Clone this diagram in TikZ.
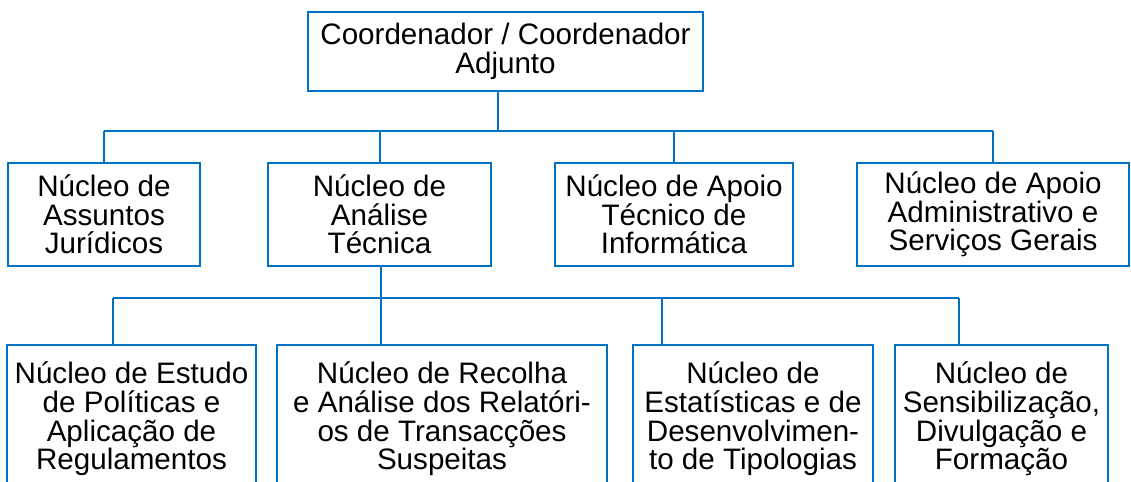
\documentclass[tikz,border=0pt]{standalone}
\usepackage{fontspec}
\setmainfont{Liberation Sans}
\usepackage{tikz}
\usepackage{xcolor}
\definecolor{OrgBlue}{RGB}{0,114,196}
\usetikzlibrary{positioning}

\begin{document}
\begin{tikzpicture}[
    x = 0.5pt, y = -0.5pt
    , box/.style = {
      , rectangle
      , draw = OrgBlue
      , line width = 1.15pt
      , inner sep = 1pt
      , align = center
      , font = \fontsize{14.8}{14.35}\selectfont
    }
    , headbox/.style = {
      box,
      minimum width = 197.5pt,
      minimum height = 39.5pt
    }
    , unit/.style = {
      box,
      minimum height = 51.5pt
    }
    , subunit/.style = {
      box,
      minimum height = 74pt
    }
    , link/.style = {
      , draw = OrgBlue
      , line width = 1pt
    }
    ]
    \useasboundingbox (0,0) rectangle (1131,482);
    \clip (0,0) rectangle (1131,482);

    \node[headbox] (coord) at (505.5,51.5) {Coordenador / Coordenador\\Adjunto};

    \node[unit, minimum width = 96pt] (juridicos) at (104,214.5) {Núcleo de\\Assuntos\\Jurídicos};
    \node[unit, minimum width = 111.5pt] (analise) at (379.5,214.5) {Núcleo de\\Análise\\Técnica};
    \node[unit, minimum width = 119pt] (informatica) at (674,214.5) {Núcleo de Apoio\\Técnico de\\Informática};
    \node[unit, minimum width = 136pt] (administrativo) at (993,214.5) {Núcleo de Apoio\\Administrativo e\\Serviços Gerais};

    \node[subunit, minimum width = 124.5pt] (estudo) at (131.5,419) {Núcleo de Estudo\\de Políticas e\\Aplicação de\\Regulamentos};
    \node[subunit, minimum width = 165pt] (recolha) at (442,419) {Núcleo de Recolha\\e Análise dos Relatóri-\\os de Transacções\\Suspeitas};
    \node[subunit, minimum width = 120pt] (estatisticas) at (753,419) {Núcleo de\\Estatísticas e de\\Desenvolvimen-\\to de Tipologias};
    \node[subunit, minimum width = 106.5pt] (sensibilizacao) at (1001.5,419) {Núcleo de\\Sensibilização,\\Divulgação e\\Formação};

    % first level
    \coordinate (bus1) at (498,131);
    \draw[link] (coord.south -| bus1) -- (bus1);
    \draw[link] (juridicos.north |- bus1) -- (administrativo.north |- bus1);
    \foreach \n in {juridicos, analise, informatica, administrativo}
      \draw[link] (\n.north) -- (\n.north |- bus1);

    % second level
    \coordinate (bus2) at (381,298);
    \coordinate (drop1) at (113,298);
    \coordinate (drop3) at (662,298);
    \coordinate (drop4) at (959,298);
    \draw[link] (analise.south -| bus2) -- (bus2 |- recolha.north);
    \draw[link] (drop1) -- (drop4);
    \draw[link] (drop1) -- (drop1 |- estudo.north);
    \draw[link] (drop3) -- (drop3 |- estatisticas.north);
    \draw[link] (drop4) -- (drop4 |- sensibilizacao.north);
  \end{tikzpicture}
\end{document}
